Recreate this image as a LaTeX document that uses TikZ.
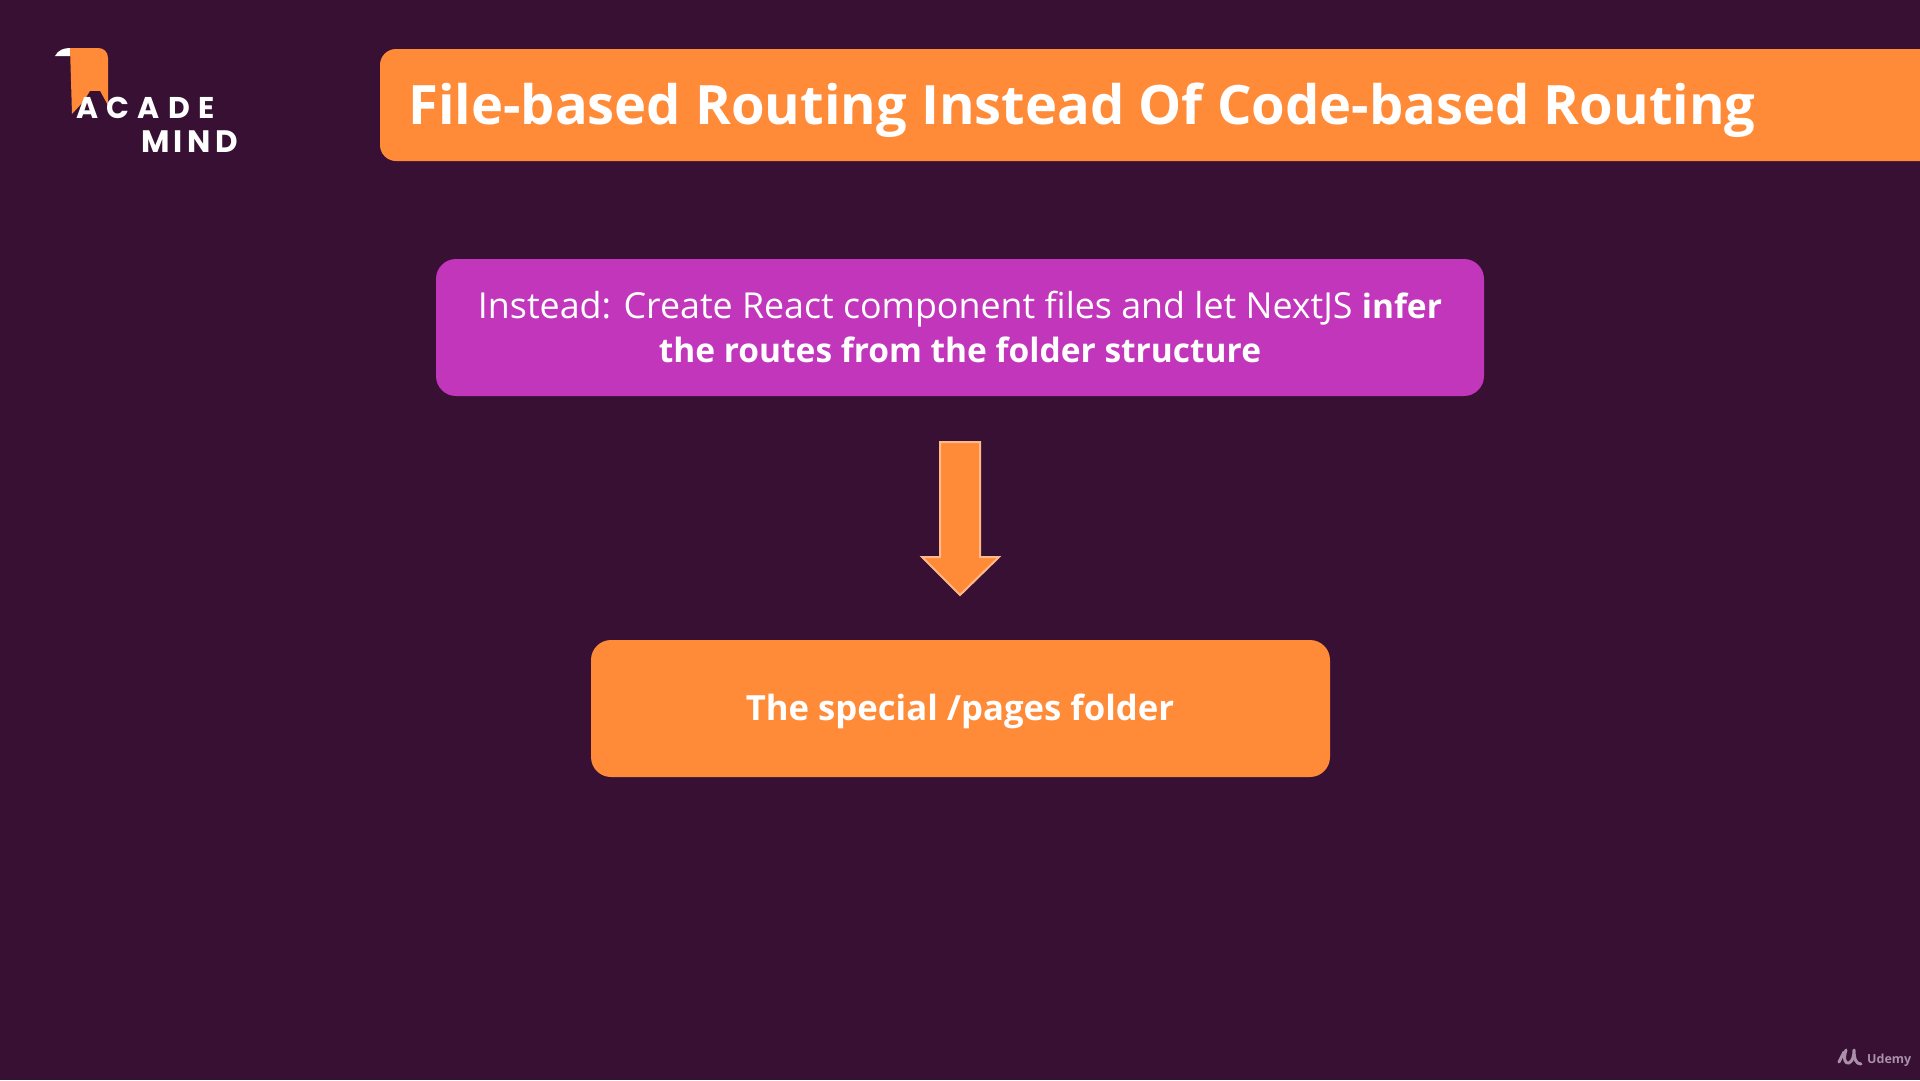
\documentclass[tikz,border=0pt]{standalone}
\usepackage{fontspec}
\setmainfont[Ligatures=NoCommon]{Open Sans}
\newfontfamily\logofonta[LetterSpace=28]{Poppins}
\newfontfamily\logofontb[LetterSpace=14]{Poppins}
\newfontfamily\titlefont[Ligatures=NoCommon]{Open Sans}
\definecolor{bgc}{HTML}{371034}
\definecolor{orangec}{HTML}{FF8A38}
\definecolor{purplec}{HTML}{C236BC}
\definecolor{markc}{HTML}{A98FA8}
\newcommand{\regsize}{\fontsize{35.8}{44}\selectfont}
\newcommand{\boldsize}{\bfseries\fontsize{33.5}{44}\selectfont}
\tikzset{
  label/.style={text=white,align=center,inner sep=0pt},
  logotext/.style={text=white,inner sep=0pt,anchor=base west}
}
\begin{document}
\begin{tikzpicture}[x=1pt,y=-1pt]
\useasboundingbox (0,0) rectangle (1920,1080);
\fill[bgc] (0,0) rectangle (1920,1080);
% logo
\fill[white] (55,56) .. controls (58,50) and (64,48) .. (70,48) -- (72,56) -- cycle;
\fill[orangec] (70,48) -- (98,48) .. controls (104,48) and (108,52) .. (108,58) -- (108,108) -- (92,92) -- (72,114) -- cycle;
\fill[bgc] (72,122) -- (90,91) -- (100,91) -- (117,122) -- cycle;
\node[logotext,font=\logofonta\bfseries\fontsize{30}{30}\selectfont] (logoa) at (76,118) {ACADE};
\node[logotext,font=\logofontb\bfseries\fontsize{31}{31}\selectfont] (logob) at (141,152) {MIND};
% title
\fill[orangec,rounded corners=16pt] (380,49) rectangle (1960,161);
\node[text=white,anchor=base west,inner sep=0pt,font=\titlefont\bfseries\fontsize{54.3}{60}\selectfont] (title) at (408,124) {File-based Routing Instead Of Code-based Routing};
% purple
\fill[purplec,rounded corners=20pt] (436,259) rectangle (1484,396);
\node[label,font=\fontsize{35}{44}\selectfont] (inst) at (960,327) {{\regsize Instead: Create React component files and let NextJS {\boldsize infer}}\\{\boldsize the routes from the folder structure}};
% arrow
\draw[orangec!60!white,line width=2pt,fill=orangec,line join=miter] (940,442) -- (980,442) -- (980,557) -- (999,557) -- (960,595) -- (922,557) -- (940,557) -- cycle;
% orange
\fill[orangec,rounded corners=20pt] (591,640) rectangle (1330,777);
\node[label,font=\bfseries\fontsize{34.7}{44}\selectfont] (pages) at (960,711) {The special /pages folder};
% udemy
\node[text=markc,anchor=base west,inner sep=0pt,font=\bfseries\fontsize{12.5}{14}\selectfont] (udemy) at (1867,1063) {Udemy};
\draw[markc,line width=3pt,line cap=round] (1839,1062) -- (1844,1052);
\draw[markc,line width=3pt,line cap=round,line join=round] (1846,1050) .. controls (1843,1059) and (1845,1064) .. (1849,1063) .. controls (1853,1061) and (1854,1055) .. (1854,1050) .. controls (1854,1059) and (1856,1064) .. (1861,1064);
\end{tikzpicture}
\end{document}
